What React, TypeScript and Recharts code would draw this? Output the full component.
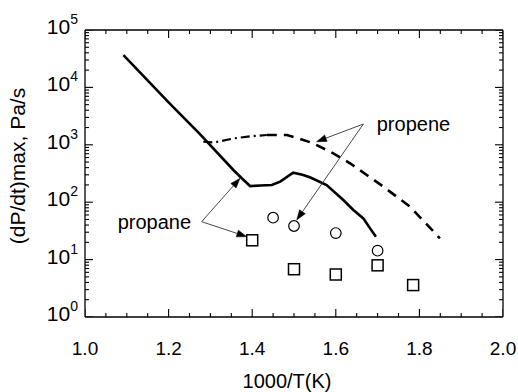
import React from 'react';
import {
  ComposedChart,
  Line,
  Scatter,
  XAxis,
  YAxis,
  ReferenceLine,
  ReferenceDot,
  Label,
} from 'recharts';

const FONT = '"Liberation Sans", Arial, Helvetica, sans-serif';

// ---- data ----
const propaneCurve = [
  { x: 1.092, y: 36600 },
  { x: 1.2, y: 5500 },
  { x: 1.275, y: 1540 },
  { x: 1.355, y: 364 },
  { x: 1.375, y: 261 },
  { x: 1.395, y: 191 },
  { x: 1.42, y: 195 },
  { x: 1.447, y: 199 },
  { x: 1.467, y: 228 },
  { x: 1.498, y: 327 },
  { x: 1.52, y: 300 },
  { x: 1.538, y: 272 },
  { x: 1.578, y: 199 },
  { x: 1.618, y: 109 },
  { x: 1.642, y: 73 },
  { x: 1.666, y: 52 },
  { x: 1.682, y: 35 },
  { x: 1.696, y: 25 },
];

const propeneCurveDashDot = [
  { x: 1.283, y: 1130 },
  { x: 1.31, y: 1100 },
  { x: 1.355, y: 1290 },
  { x: 1.4, y: 1420 },
  { x: 1.435, y: 1480 },
];

const propeneCurveDashed = [
  { x: 1.435, y: 1480 },
  { x: 1.483, y: 1480 },
  { x: 1.51, y: 1300 },
  { x: 1.546, y: 1062 },
  { x: 1.594, y: 710 },
  { x: 1.634, y: 476 },
  { x: 1.674, y: 298 },
  { x: 1.714, y: 186 },
  { x: 1.778, y: 83 },
  { x: 1.849, y: 23.5 },
];

const propeneCircles = [
  { x: 1.45, y: 53.7 },
  { x: 1.5, y: 38.5 },
  { x: 1.6, y: 29 },
  { x: 1.7, y: 14.3 },
];

const propaneSquares = [
  { x: 1.4, y: 21.7 },
  { x: 1.5, y: 6.8 },
  { x: 1.6, y: 5.5 },
  { x: 1.7, y: 7.95 },
  { x: 1.785, y: 3.6 },
];

const xTicks = [
  1.0, 1.05, 1.1, 1.15, 1.2, 1.25, 1.3, 1.35, 1.4, 1.45, 1.5, 1.55, 1.6, 1.65,
  1.7, 1.75, 1.8, 1.85, 1.9, 1.95, 2.0,
];

const yTicks = [
  1, 2, 3, 4, 5, 6, 7, 8, 9,
  10, 20, 30, 40, 50, 60, 70, 80, 90,
  100, 200, 300, 400, 500, 600, 700, 800, 900,
  1000, 2000, 3000, 4000, 5000, 6000, 7000, 8000, 9000,
  10000, 20000, 30000, 40000, 50000, 60000, 70000, 80000, 90000,
  100000,
];

const xDomain = [1, 2];
const yDomain = [1, 100000];

// annotation labels (data coordinates)
const propeneLabel = { x: 1.698, y: 2213, text: 'propene' };
const propaneLabel = { x: 1.166, y: 42.9, text: 'propane' };

// annotation arrows: [from, to]
const propeneArrows = [
  [{ x: 1.666, y: 2303 }, { x: 1.554, y: 1132 }],
  [{ x: 1.666, y: 2303 }, { x: 1.5065, y: 49 }],
];
const propaneArrows = [
  [{ x: 1.279, y: 45.8 }, { x: 1.387, y: 25.1 }],
  [{ x: 1.279, y: 45.8 }, { x: 1.371, y: 261 }],
];

// tick-mark anchor points on the frame, built from the tick arrays
const xTickMarksBottom = xTicks.map((v) => ({ x: v, y: yDomain[0], t: v }));
const xTickMarksTop = xTicks.map((v) => ({ x: v, y: yDomain[1], t: v }));
const yTickMarksLeft = yTicks.map((v) => ({ x: xDomain[0], y: v, t: v }));
const yTickMarksRight = yTicks.map((v) => ({ x: xDomain[1], y: v, t: v }));

// ---- helpers ----
const isMajorX = (v: number) => Math.abs(v * 5 - Math.round(v * 5)) < 1e-6;
const isMajorY = (v: number) => {
  const l = Math.log10(v);
  return Math.abs(l - Math.round(l)) < 1e-6;
};

const tickVal = (props: any): number => {
  const p = props.payload || {};
  if (typeof p.t === 'number') return p.t;
  return NaN;
};

const makeXTickMarkShape = (dir: 1 | -1) => (props: any) => {
  const { cx, cy } = props;
  const v = tickVal(props);
  const len = isMajorX(v) ? 8 : 4;
  return <line x1={cx} y1={cy} x2={cx} y2={cy + dir * len} stroke="#000" strokeWidth={1.1} />;
};

const makeYTickMarkShape = (dir: 1 | -1) => (props: any) => {
  const { cx, cy } = props;
  const v = tickVal(props);
  const len = isMajorY(v) ? 8 : 4;
  return <line x1={cx} y1={cy} x2={cx + dir * len} y2={cy} stroke="#000" strokeWidth={1.1} />;
};

const BottomTick = (props: any) => {
  const { x, y, payload } = props;
  const v = payload.value as number;
  if (!isMajorX(v)) return <g />;
  return (
    <text x={x} y={y + 38} textAnchor="middle" fontSize={19} fontFamily={FONT} fill="#000">
      {v.toFixed(1)}
    </text>
  );
};

const LeftTick = (props: any) => {
  const { x, y, payload } = props;
  const v = payload.value as number;
  if (!isMajorY(v)) return <g />;
  const exp = Math.round(Math.log10(v));
  return (
    <text x={x - 7} y={y + 4} textAnchor="end" fontSize={21} fontFamily={FONT} fill="#000">
      <tspan>10</tspan>
      <tspan dy={-10} fontSize={14}>{String(exp)}</tspan>
    </text>
  );
};

const ArrowShape = (props: any) => {
  const { x1, y1, x2, y2 } = props;
  const ang = Math.atan2(y2 - y1, x2 - x1);
  const len = 10;
  const hw = 3.5;
  const bx = x2 - len * Math.cos(ang);
  const by = y2 - len * Math.sin(ang);
  const px = -Math.sin(ang) * hw;
  const py = Math.cos(ang) * hw;
  return (
    <g>
      <line x1={x1} y1={y1} x2={bx} y2={by} stroke="#333" strokeWidth={0.9} />
      <polygon
        points={`${x2},${y2} ${bx + px},${by + py} ${bx - px},${by - py}`}
        fill="#000"
        stroke="#000"
        strokeWidth={0.5}
      />
    </g>
  );
};

const CircleShape = (props: any) => {
  const { cx, cy } = props;
  return <circle cx={cx} cy={cy} r={5.3} fill="none" stroke="#000" strokeWidth={1.2} />;
};

const SquareShape = (props: any) => {
  const { cx, cy } = props;
  return (
    <rect x={cx - 5.5} y={cy - 5.5} width={11} height={11} fill="none" stroke="#000" strokeWidth={1.5} />
  );
};

const makeTextShape = (text: string, anchor: 'start' | 'middle') => (props: any) => {
  const { cx, cy } = props;
  return (
    <text x={cx} y={cy + 6} textAnchor={anchor} fontSize={20} fontFamily={FONT} fill="#000">
      {text}
    </text>
  );
};

const XTitle = (props: any) => {
  const vb = props.viewBox || {};
  const cx = (vb.x ?? 85) + (vb.width ?? 418) / 2 - 7;
  const y = (vb.y ?? 317) + 71;
  return (
    <text x={cx} y={y} textAnchor="middle" fontSize={20} fontFamily={FONT} fill="#000">
      1000/T(K)
    </text>
  );
};

const YTitle = (props: any) => {
  const vb = props.viewBox || {};
  const cx = 17.5;
  const cy = (vb.y ?? 30) + (vb.height ?? 287) / 2 - 7.5;
  return (
    <text
      x={cx}
      y={cy}
      transform={`rotate(-90, ${cx}, ${cy})`}
      textAnchor="middle"
      dominantBaseline="central"
      fontSize={21}
      fontFamily={FONT}
      fill="#000"
    >
      (dP/dt)max, Pa/s
    </text>
  );
};

export default function App() {
  return (
    <div style={{ position: 'absolute', left: 0, top: 0, background: '#fff' }}>
      <ComposedChart
        width={518}
        height={392}
        margin={{ top: 30, right: 15, bottom: 0, left: 0 }}
      >
        <XAxis
          dataKey="x"
          type="number"
          domain={xDomain}
          allowDataOverflow
          ticks={xTicks}
          interval={0}
          tickSize={0}
          tickMargin={0}
          tick={BottomTick}
          height={75}
          axisLine={{ stroke: '#000', strokeWidth: 1.3 }}
          tickLine={false}
        >
          <Label content={XTitle} />
        </XAxis>
        <YAxis
          dataKey="y"
          type="number"
          scale="log"
          domain={yDomain}
          allowDataOverflow
          ticks={yTicks}
          interval={0}
          tickSize={0}
          tickMargin={0}
          tick={LeftTick}
          width={85}
          axisLine={{ stroke: '#000', strokeWidth: 1.3 }}
          tickLine={false}
        >
          <Label content={YTitle} />
        </YAxis>

        {/* frame (top and right) */}
        <ReferenceLine y={yDomain[1]} stroke="#000" strokeWidth={1.3} />
        <ReferenceLine x={xDomain[1]} stroke="#000" strokeWidth={1.3} />

        <Line
          data={propeneCurveDashDot}
          dataKey="y"
          type="linear"
          stroke="#000"
          strokeWidth={2.2}
          strokeDasharray="9 4 2 4"
          dot={false}
          activeDot={false}
          isAnimationActive={false}
        />
        <Line
          data={propeneCurveDashed}
          dataKey="y"
          type="linear"
          stroke="#000"
          strokeWidth={2.6}
          strokeDasharray="10 7"
          dot={false}
          activeDot={false}
          isAnimationActive={false}
        />
        <Line
          data={propaneCurve}
          dataKey="y"
          type="linear"
          stroke="#000"
          strokeWidth={2.6}
          dot={false}
          activeDot={false}
          isAnimationActive={false}
        />
        <Scatter data={propeneCircles} dataKey="y" shape={CircleShape} isAnimationActive={false} />
        <Scatter data={propaneSquares} dataKey="y" shape={SquareShape} isAnimationActive={false} />

        {/* inward tick marks on all four sides */}
        <Scatter data={xTickMarksBottom} dataKey="y" shape={makeXTickMarkShape(-1)} isAnimationActive={false} />
        <Scatter data={xTickMarksTop} dataKey="y" shape={makeXTickMarkShape(1)} isAnimationActive={false} />
        <Scatter data={yTickMarksLeft} dataKey="y" shape={makeYTickMarkShape(1)} isAnimationActive={false} />
        <Scatter data={yTickMarksRight} dataKey="y" shape={makeYTickMarkShape(-1)} isAnimationActive={false} />

        {propeneArrows.map((seg, i) => (
          <ReferenceLine key={`pe${i}`} segment={seg as any} shape={ArrowShape} />
        ))}
        {propaneArrows.map((seg, i) => (
          <ReferenceLine key={`pa${i}`} segment={seg as any} shape={ArrowShape} />
        ))}
        <ReferenceDot
          x={propeneLabel.x}
          y={propeneLabel.y}
          r={0}
          shape={makeTextShape(propeneLabel.text, 'start')}
        />
        <ReferenceDot
          x={propaneLabel.x}
          y={propaneLabel.y}
          r={0}
          shape={makeTextShape(propaneLabel.text, 'middle')}
        />
      </ComposedChart>
    </div>
  );
}
